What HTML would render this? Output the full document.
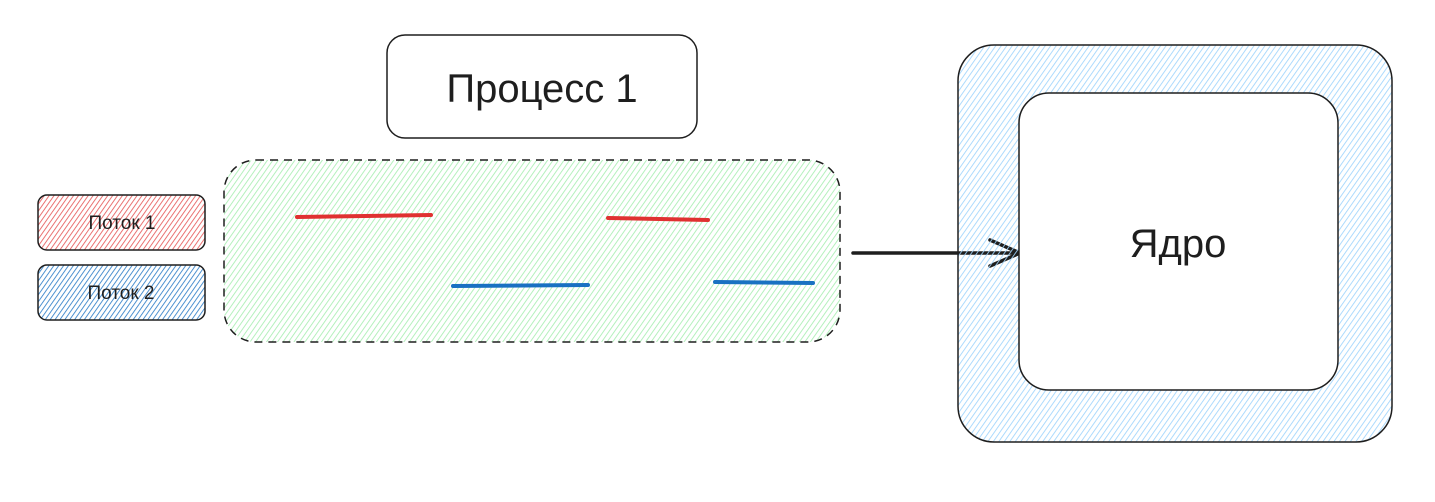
<!DOCTYPE html>
<html><head><meta charset="utf-8">
<style>
html,body{margin:0;padding:0;background:#fff;}
svg{display:block;}
text{font-family:"Liberation Sans","DejaVu Sans",sans-serif;fill:#1e1e1e;}
</style></head>
<body>
<svg width="1435" height="502" viewBox="0 0 1435 502" xmlns="http://www.w3.org/2000/svg">
<defs>
<pattern id="hRed" width="4" height="4" patternUnits="userSpaceOnUse" patternTransform="rotate(35)">
<line x1="0" y1="0" x2="0" y2="4" stroke="#e03131" stroke-width="1.7" stroke-opacity="0.8"/></pattern>
<pattern id="hBlue" width="4" height="4" patternUnits="userSpaceOnUse" patternTransform="rotate(35)">
<line x1="0" y1="0" x2="0" y2="4" stroke="#1971c2" stroke-width="1.7" stroke-opacity="0.9"/></pattern>
<pattern id="hGreen" width="4.5" height="4.5" patternUnits="userSpaceOnUse" patternTransform="rotate(35)">
<line x1="0" y1="0" x2="0" y2="4.5" stroke="#a8eeb2" stroke-width="1.7"/></pattern>
<pattern id="hLBlue" width="4.5" height="4.5" patternUnits="userSpaceOnUse" patternTransform="rotate(35)">
<line x1="0" y1="0" x2="0" y2="4.5" stroke="#9fd4fc" stroke-width="1.7"/></pattern>
</defs>

<g>
<rect x="387" y="35" width="310" height="103" rx="18" fill="#fff" stroke="#1e1e1e" stroke-width="1.5"/>
<text x="542" y="102" font-size="40" text-anchor="middle">Процесс 1</text>
</g>

<rect x="224" y="160" width="616" height="182" rx="32" fill="url(#hGreen)" stroke="#1e1e1e" stroke-width="1.5" stroke-dasharray="8 6"/>

<g>
<rect x="38" y="195" width="167" height="55" rx="9" fill="url(#hRed)" stroke="#1e1e1e" stroke-width="1.5"/>
<text x="122" y="229" font-size="19" text-anchor="middle">Поток 1</text>
</g>
<g>
<rect x="38" y="265" width="167" height="55" rx="9" fill="url(#hBlue)" stroke="#1e1e1e" stroke-width="1.5"/>
<text x="121" y="299" font-size="19" text-anchor="middle">Поток 2</text>
</g>

<line x1="297" y1="217" x2="431" y2="215" stroke="#e03131" stroke-width="4" stroke-linecap="round"/>
<line x1="608" y1="218" x2="708" y2="220" stroke="#e03131" stroke-width="4" stroke-linecap="round"/>
<line x1="453" y1="286" x2="588" y2="285" stroke="#1971c2" stroke-width="4" stroke-linecap="round"/>
<line x1="715" y1="282" x2="813" y2="283" stroke="#1971c2" stroke-width="4" stroke-linecap="round"/>

<g stroke="#1e1e1e" stroke-width="3.5" stroke-linecap="round" fill="none">
<line x1="853" y1="253" x2="1020" y2="253"/>
<polyline points="990,240 1020,253 990,266"/>
</g>

<g>
<rect x="958" y="45" width="434" height="397" rx="36" fill="url(#hLBlue)" stroke="#1e1e1e" stroke-width="1.5"/>
<rect x="1019" y="93" width="319" height="297" rx="30" fill="#fff" stroke="#1e1e1e" stroke-width="1.5"/>
<text x="1178" y="257" font-size="40" text-anchor="middle">Ядро</text>
</g>
</svg>
</body></html>
